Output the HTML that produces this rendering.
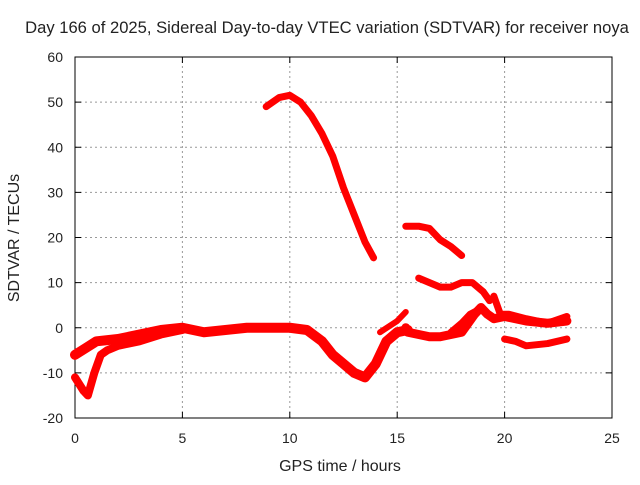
<!DOCTYPE html>
<html><head><meta charset="utf-8"><style>
body{margin:0;background:#fff;font-family:"Liberation Sans",sans-serif}
svg text{font-family:"Liberation Sans",sans-serif;font-size:14px;fill:#222}
</style></head><body>
<svg id="c" width="640" height="480">
<text x="327" y="33" text-anchor="middle" style="font-size:16.6px">Day 166 of 2025, Sidereal Day-to-day VTEC variation (SDTVAR) for receiver noya</text>
<g id="grid"></g><g id="axes"></g><g id="series"></g>
<text x="340" y="471" text-anchor="middle" style="font-size:16px">GPS time / hours</text>
<text transform="translate(19,238) rotate(-90)" text-anchor="middle" style="font-size:16px">SDTVAR / TECUs</text>
</svg>
<script>
const xTicks=[0,5,10,15,20,25];
const yTicks=[-20,-10,0,10,20,30,40,50,60];
const seriesA=[[0,-6],[0.5,-4.5],[1,-3],[2,-2.5],[3,-1.5],[4,-0.5],[5,0],[6,-1],[7,-0.5],[8,0],[9,0],[10,0],[10.8,-0.5],[11.5,-3],[12,-6],[12.5,-8],[13,-10],[13.5,-11],[14,-8],[14.5,-3],[15,-1],[15.5,-0.5]];
const seriesB=[[0,-11],[0.4,-14],[0.6,-15],[0.9,-10],[1.2,-6],[1.5,-5],[2,-4],[3,-3],[4,-1.5],[5,-0.5]];
const seriesC=[[8.9,49],[9.5,51],[10,51.5],[10.5,50],[11,47],[11.5,43],[12,38],[12.5,31],[13,25],[13.5,19],[13.9,15.5]];
const seriesD=[[15.4,22.5],[16,22.5],[16.5,22],[17,19.5],[17.5,18],[18,16]];
const seriesE=[[16,11],[16.5,10],[17,9],[17.5,9],[18,10],[18.5,10],[19,8],[19.3,6]];
const seriesF=[[15.4,0],[15.5,-1],[16,-1.5],[16.5,-2],[17,-2],[17.5,-1.5],[18,-1],[18.3,1],[18.6,3],[18.9,4.5],[19.2,3],[19.5,2],[20,2.5],[21,1.5],[22,1],[22.9,1.5]];
const seriesG=[[19.5,7],[19.8,3],[20.2,3],[21,2],[22,1],[22.9,2.5]];
const seriesH=[[20,-2.5],[20.5,-3],[21,-4],[22,-3.5],[22.9,-2.5]];
const seriesI=[[14.2,-1],[15,1.5],[15.4,3.5]];
const seriesJ=[[17.5,-1],[18,1],[18.4,3],[18.8,4]];
const X0=75,X1=612,Y0=418,Y1=57;
const sx=h=>X0+(h-0)/25*(X1-X0);
const sy=v=>Y0-(v+20)/80*(Y0-Y1);
const NS='http://www.w3.org/2000/svg';
function mk(t,a,p){const e=document.createElementNS(NS,t);for(const k in a)e.setAttribute(k,a[k]);p.appendChild(e);return e;}
const grid=document.getElementById('grid'),axes=document.getElementById('axes'),ser=document.getElementById('series');
xTicks.forEach(t=>{
 if(t>0&&t<25){const l=mk('line',{x1:sx(t),x2:sx(t),y1:Y0,y2:Y1,stroke:'#999','stroke-dasharray':'2,3'},grid);
 
 }
 mk('line',{x1:sx(t),x2:sx(t),y1:Y0,y2:Y0-6,stroke:'#000'},axes);
 mk('line',{x1:sx(t),x2:sx(t),y1:Y1,y2:Y1+6,stroke:'#000'},axes);
 const tx=mk('text',{x:sx(t),y:Y0+25,'text-anchor':'middle'},axes);tx.textContent=t;
 
 
});
yTicks.forEach(t=>{
 if(t>-20&&t<60){const l=mk('line',{x1:X0,x2:X1,y1:sy(t),y2:sy(t),stroke:'#999','stroke-dasharray':'2,3'},grid);
 
 }
 mk('line',{x1:X0,x2:X0+6,y1:sy(t),y2:sy(t),stroke:'#000'},axes);
 mk('line',{x1:X1,x2:X1-6,y1:sy(t),y2:sy(t),stroke:'#000'},axes);
 const tx=mk('text',{x:X0-12,y:sy(t)+5,'text-anchor':'end'},axes);tx.textContent=t;
 
 
});
const fr=mk('rect',{x:X0,y:Y1,width:X1-X0,height:Y0-Y1,fill:'none',stroke:'#000'},axes);


[[seriesA,10],[seriesB,8],[seriesC,7],[seriesD,7],[seriesE,7],[seriesF,9],[seriesG,7],[seriesH,7],[seriesI,6],[seriesJ,7]].forEach(([s,w],i)=>{
 const p=mk('polyline',{points:s.map(d=>sx(d[0])+','+sy(d[1])).join(' '),fill:'none',stroke:'#f00','stroke-width':w,'stroke-linejoin':'round','stroke-linecap':'round'},ser);
 
 
});
</script>
</body></html>
